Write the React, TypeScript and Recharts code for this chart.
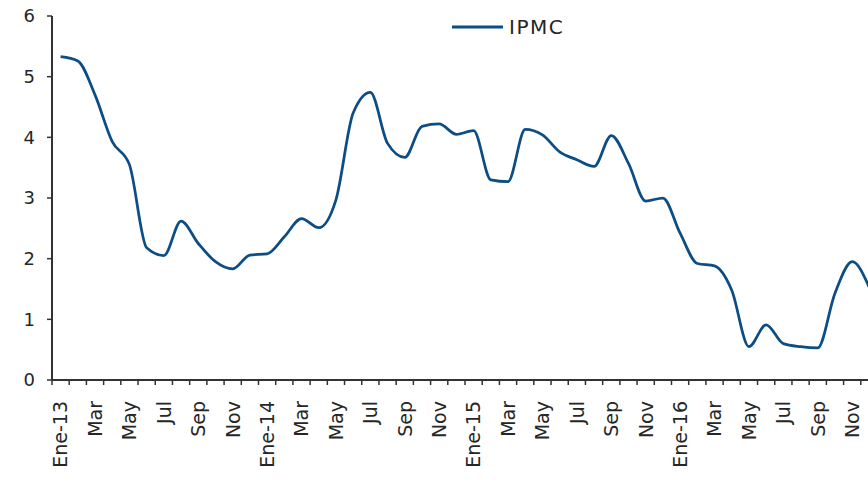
import { LineChart, Line, XAxis, YAxis } from 'recharts'

// monthly categories, Ene-13 .. Dic-16
const categories = [
  'Ene-13', 'Feb', 'Mar', 'Abr', 'May', 'Jun', 'Jul', 'Ago', 'Sep', 'Oct', 'Nov', 'Dic',
  'Ene-14', 'Feb', 'Mar', 'Abr', 'May', 'Jun', 'Jul', 'Ago', 'Sep', 'Oct', 'Nov', 'Dic',
  'Ene-15', 'Feb', 'Mar', 'Abr', 'May', 'Jun', 'Jul', 'Ago', 'Sep', 'Oct', 'Nov', 'Dic',
  'Ene-16', 'Feb', 'Mar', 'Abr', 'May', 'Jun', 'Jul', 'Ago', 'Sep', 'Oct', 'Nov', 'Dic',
]

const ipmc = [
  5.33, 5.26, 4.7, 3.93, 3.55, 2.18, 2.05, 2.62, 2.25, 1.95, 1.83, 2.06,
  2.08, 2.36, 2.66, 2.51, 2.97, 4.4, 4.74, 3.9, 3.67, 4.18, 4.22, 4.05,
  4.11, 3.3, 3.27, 4.13, 4.04, 3.76, 3.63, 3.52, 4.03, 3.57, 2.95, 3.0,
  2.42, 1.92, 1.88, 1.48, 0.55, 0.91, 0.6, 0.55, 0.53, 1.43, 1.95, 1.52,
]

const yTicks = [0, 1, 2, 3, 4, 5, 6]

const data = ipmc.map((v, i) => ({ i, name: categories[i], value: v }))
const labelTicks = categories.map((_, i) => i).filter((i) => i % 2 === 0)
const boundaryTicks = [...categories.map((_, i) => i - 0.5), categories.length - 0.5]
const domain = [-0.5, categories.length - 0.5]

const FONT = '"DejaVu Sans", Verdana, sans-serif'
const TEXT = '#262626'
const AXIS = '#333333'
const BLUE = '#0b4d84'

function MonthTick(props: any) {
  const { x, y, payload } = props
  const label = categories[payload.value] ?? ''
  const ty = y + 15
  return (
    <text
      x={x}
      y={ty}
      dy="0.36em"
      transform={`rotate(-90, ${x}, ${ty})`}
      textAnchor="end"
      fontSize={19}
      fontFamily={FONT}
      fill={TEXT}
    >
      {label}
    </text>
  )
}

export default function App() {
  return (
    <div
      style={{
        position: 'fixed',
        left: 0,
        top: 0,
        width: 868,
        height: 481,
        overflow: 'hidden',
        background: '#fff',
      }}
    >
      <LineChart width={878} height={481} data={data} margin={{ top: 16, right: 0, bottom: 0, left: 0 }}>
        <XAxis
          xAxisId="a"
          type="number"
          dataKey="i"
          domain={domain}
          ticks={boundaryTicks}
          interval={0}
          tickFormatter={() => ''}
          tickSize={5}
          height={6}
          axisLine={{ stroke: AXIS, strokeWidth: 2 }}
          tickLine={{ stroke: AXIS, strokeWidth: 1.5 }}
        />
        <XAxis
          xAxisId="b"
          type="number"
          dataKey="i"
          domain={domain}
          ticks={labelTicks}
          interval={0}
          axisLine={false}
          tickLine={false}
          tickSize={0}
          tickMargin={0}
          height={95}
          tick={<MonthTick />}
        />
        <YAxis
          type="number"
          domain={[0, 6]}
          ticks={yTicks}
          interval={0}
          width={52}
          tickSize={5}
          tickMargin={12}
          axisLine={{ stroke: AXIS, strokeWidth: 2 }}
          tickLine={{ stroke: AXIS, strokeWidth: 1.5 }}
          tick={{ fontSize: 18, fontFamily: FONT, fill: TEXT }}
        />
        <Line
          xAxisId="a"
          type="monotone"
          dataKey="value"
          name="IPMC"
          stroke={BLUE}
          strokeWidth={2.75}
          dot={false}
          isAnimationActive={false}
        />
      </LineChart>
      <div
        style={{
          position: 'absolute',
          left: 452,
          top: 14,
          display: 'flex',
          alignItems: 'center',
          fontFamily: FONT,
          fontSize: 20,
          letterSpacing: 1.5,
          color: TEXT,
        }}
      >
        <svg width={52} height={26}>
          <line x1={0} y1={13} x2={51} y2={13} stroke={BLUE} strokeWidth={3} />
        </svg>
        <span style={{ marginLeft: 5 }}>IPMC</span>
      </div>
    </div>
  )
}
